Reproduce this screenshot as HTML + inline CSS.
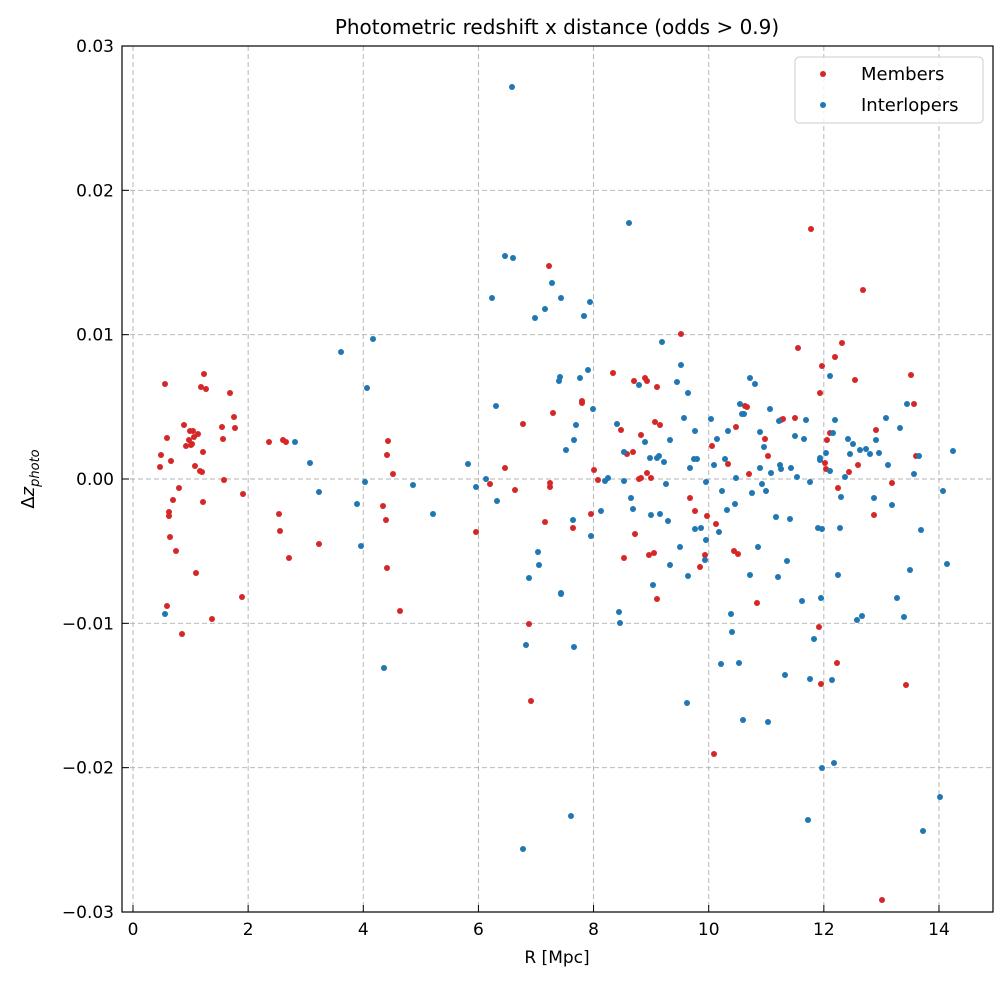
<!DOCTYPE html>
<html><head><meta charset="utf-8"><style>
html,body{margin:0;padding:0;background:#fff;}
svg{display:block;font-family:"DejaVu Sans","Liberation Sans",sans-serif;}
</style></head><body>
<svg id="s" width="1008" height="983" xmlns="http://www.w3.org/2000/svg">
<rect width="1008" height="983" fill="#fff"/>
<g id="grid" stroke="#b0b0b0" stroke-dasharray="5,3" stroke-width="0.9"></g>
<g id="pts"></g>
<rect x="122" y="46" width="871" height="866" fill="none" stroke="#000" stroke-width="1.2"/>
<g id="ticks" stroke="#000" stroke-width="1"></g>
<g id="lab" font-size="17" fill="#000"></g>
<text x="557" y="34" font-size="20" text-anchor="middle">Photometric redshift x distance (odds &gt; 0.9)</text>
<text x="557" y="963" font-size="17" text-anchor="middle">R [Mpc]</text>
<text transform="translate(34,479) rotate(-90)" font-size="18" text-anchor="middle">Δ<tspan font-style="italic">z</tspan><tspan font-size="13" font-style="italic" dy="5">photo</tspan></text>
<rect x="795" y="57" width="188" height="66" rx="4" fill="#fff" fill-opacity="0.8" stroke="#ccc"/>
<circle cx="823" cy="74" r="3" fill="#d62728"/>
<circle cx="823" cy="105" r="3" fill="#1f77b4"/>
<text x="861" y="80" font-size="18">Members</text>
<text x="861" y="111" font-size="18">Interlopers</text>
</svg>
<script>
var NS="http://www.w3.org/2000/svg";
function el(p,t,a,txt){var e=document.createElementNS(NS,t);for(var k in a)e.setAttribute(k,a[k]);if(txt!=null)e.textContent=txt;p.appendChild(e);return e;}
var g=document.getElementById('grid'),tk=document.getElementById('ticks'),lb=document.getElementById('lab');
for(var i=0;i<=14;i+=2){var x=133+i*57.57;el(g,'line',{x1:x,x2:x,y1:46,y2:912});el(tk,'line',{x1:x,x2:x,y1:912,y2:905});el(lb,'text',{x:x,y:935,'text-anchor':'middle'},String(i));}
var ys=[0.03,0.02,0.01,0,-0.01,-0.02,-0.03],yl=["0.03","0.02","0.01","0.00","\u22120.01","\u22120.02","\u22120.03"];
for(var j=0;j<7;j++){var y=479-ys[j]*14433;if(j>0&&j<6)el(g,'line',{x1:122,x2:993,y1:y,y2:y});el(tk,'line',{x1:122,x2:129,y1:y,y2:y});el(lb,'text',{x:114,y:y+6,'text-anchor':'end'},yl[j]);}
var red=[[161,455],[160,467],[165,384],[167,438],[171,461],[169,512],[169,516],[170,537],[173,500],[176,551],[179,488],[167,606],[182,634],[184,425],[186,446],[189,440],[190,431],[191,445],[192,444],[193,431],[194,437],[195,466],[196,573],[198,434],[200,471],[201,387],[202,472],[203,452],[203,502],[204,374],[206,389],[212,619],[222,427],[223,439],[224,480],[230,393],[234,417],[235,428],[243,494],[242,597],[269,442],[279,514],[280,531],[283,440],[286,442],[289,558],[319,544],[386,520],[383,506],[388,441],[387,455],[387,568],[393,474],[400,611],[476,532],[490,484],[505,468],[515,490],[523,424],[529,624],[531,701],[545,522],[549,266],[550,483],[550,487],[553,413],[573,528],[582,401],[582,403],[591,514],[594,470],[598,480],[613,373],[621,430],[624,558],[627,454],[633,452],[634,381],[635,534],[639,479],[641,478],[645,378],[641,435],[647,473],[647,381],[649,555],[651,478],[654,553],[657,387],[660,425],[657,599],[655,422],[681,334],[690,498],[695,511],[700,567],[705,555],[707,516],[712,446],[714,754],[716,524],[728,464],[734,551],[736,427],[738,554],[745,406],[747,407],[749,474],[757,603],[765,439],[768,456],[781,420],[783,419],[795,418],[798,348],[811,229],[820,393],[819,627],[821,684],[822,366],[825,463],[826,469],[827,440],[830,433],[835,357],[837,663],[838,488],[842,343],[849,472],[855,380],[858,465],[863,290],[874,515],[876,430],[882,900],[892,483],[906,685],[911,375],[914,404],[916,456]];
var blue=[[165,614],[295,442],[310,463],[319,492],[341,352],[357,504],[361,546],[365,482],[367,388],[373,339],[384,668],[413,485],[433,514],[468,464],[476,487],[486,479],[492,298],[496,406],[497,501],[505,256],[512,87],[513,258],[526,645],[529,578],[535,318],[538,552],[539,565],[545,309],[552,283],[559,381],[560,377],[561,298],[561,593],[566,450],[573,520],[574,647],[576,425],[580,378],[584,316],[588,370],[590,302],[591,536],[593,409],[601,511],[605,481],[608,478],[617,424],[619,612],[620,623],[624,452],[624,481],[629,223],[631,498],[633,509],[639,385],[645,442],[650,458],[651,515],[653,585],[657,458],[659,456],[662,342],[664,462],[666,484],[668,521],[670,440],[677,382],[681,365],[684,418],[688,393],[687,703],[690,468],[694,459],[695,431],[697,459],[701,528],[705,560],[706,482],[711,419],[714,465],[717,439],[719,532],[722,491],[725,459],[727,510],[731,614],[735,504],[736,478],[740,404],[742,414],[744,414],[750,378],[752,493],[755,384],[758,547],[760,468],[762,484],[764,447],[766,491],[771,473],[776,517],[778,577],[779,421],[780,465],[781,469],[787,561],[790,519],[791,468],[795,436],[797,477],[802,601],[804,439],[806,420],[810,679],[814,639],[818,528],[820,460],[822,529],[826,453],[830,376],[833,433],[835,420],[838,575],[840,528],[841,497],[845,477],[848,439],[850,454],[853,444],[857,620],[860,450],[862,616],[866,449],[870,454],[874,498],[876,440],[879,453],[886,418],[888,465],[892,505],[897,598],[900,428],[904,617],[907,404],[910,570],[914,474],[919,456],[921,530],[923,831],[943,491],[947,564],[953,451],[940,797],[834,763],[808,820],[768,722],[743,720],[739,663],[732,632],[721,664],[695,529],[688,576],[706,540],[728,431],[750,575],[760,432],[770,409],[810,482],[820,458],[830,471],[832,680],[822,768],[821,598],[785,675],[660,514],[670,565],[680,547],[571,816],[523,849],[574,440],[561,594]];
var p=document.getElementById('pts');
red.forEach(function(d){el(p,'circle',{cx:d[0],cy:d[1],r:3,fill:'#d62728'});});
blue.forEach(function(d){el(p,'circle',{cx:d[0],cy:d[1],r:3,fill:'#1f77b4'});});
</script>
</body></html>
